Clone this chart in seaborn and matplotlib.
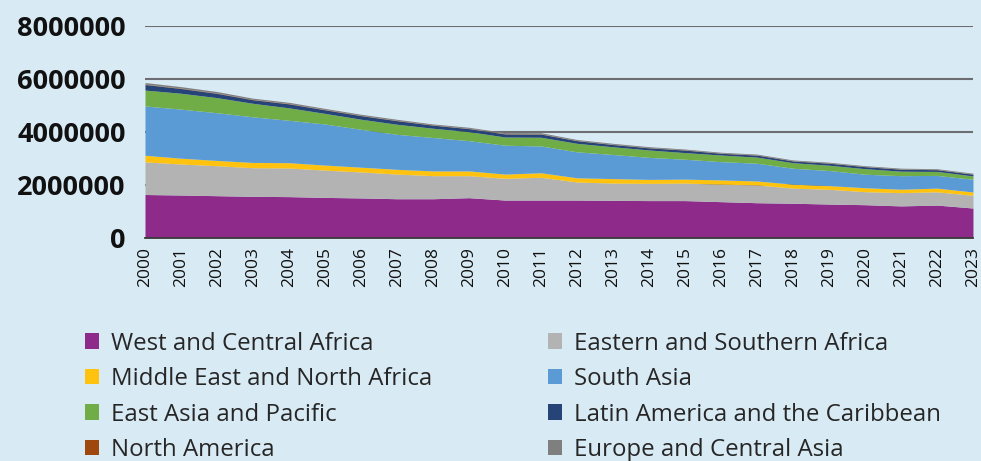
import numpy as np
import pandas as pd
import matplotlib
matplotlib.use("Agg")
import matplotlib.pyplot as plt
from matplotlib.patches import Patch
import seaborn as sns

years = list(range(2000, 2024))

regions = [
    "West and Central Africa",
    "Eastern and Southern Africa",
    "Middle East and North Africa",
    "South Asia",
    "East Asia and Pacific",
    "Latin America and the Caribbean",
    "North America",
    "Europe and Central Asia",
]

wca = [1630000, 1610000, 1585000, 1560000, 1550000, 1520000, 1500000, 1470000,
       1470000, 1510000, 1420000, 1420000, 1420000, 1410000, 1400000, 1400000,
       1360000, 1320000, 1300000, 1270000, 1245000, 1200000, 1230000, 1120000]
esa = [1230000, 1170000, 1130000, 1080000, 1080000, 1030000, 980000, 930000,
       870000, 830000, 820000, 860000, 680000, 650000, 650000, 660000,
       660000, 670000, 570000, 555000, 490000, 500000, 500000, 480000]
mena = [250000, 220000, 200000, 200000, 200000, 190000, 180000, 180000,
        180000, 180000, 160000, 170000, 160000, 170000, 150000, 150000,
        160000, 150000, 150000, 140000, 150000, 130000, 140000, 125000]
sa = [1860000, 1850000, 1800000, 1720000, 1600000, 1550000, 1430000, 1320000,
      1260000, 1140000, 1090000, 1010000, 980000, 910000, 830000, 750000,
      690000, 670000, 600000, 570000, 510000, 510000, 480000, 480000]
eap = [600000, 600000, 570000, 510000, 470000, 400000, 380000, 380000,
       350000, 340000, 310000, 330000, 320000, 290000, 280000, 250000,
       250000, 230000, 210000, 200000, 210000, 170000, 150000, 125000]
lac = [210000, 180000, 160000, 135000, 150000, 135000, 135000, 135000,
       115000, 115000, 115000, 120000, 100000, 85000, 80000, 95000,
       65000, 75000, 65000, 75000, 75000, 75000, 65000, 65000]
na = [15000, 15000, 14000, 14000, 13000, 13000, 12000, 12000,
      12000, 11000, 11000, 11000, 10000, 10000, 10000, 10000,
      9000, 9000, 9000, 9000, 8000, 8000, 8000, 8000]
eca = [60000, 55000, 55000, 45000, 45000, 40000, 40000, 40000,
       35000, 40000, 40000, 40000, 35000, 35000, 35000, 30000,
       30000, 30000, 30000, 30000, 30000, 30000, 30000, 30000]

y_ticks = [0, 2000000, 4000000, 6000000, 8000000]
y_labels = ["0", "2000000", "4000000", "6000000", "8000000"]

colors = ["#8e2a8a", "#b3b3b3", "#ffc20e", "#5b9bd5",
          "#70ad47", "#264478", "#9e480e", "#7f7f7f"]

df = pd.DataFrame({
    regions[0]: wca, regions[1]: esa, regions[2]: mena, regions[3]: sa,
    regions[4]: eap, regions[5]: lac, regions[6]: na, regions[7]: eca,
}, index=years)

sns.set_style("white")
plt.rcParams["font.family"] = ["Open Sans", "DejaVu Sans"]

bg = "#d8eaf4"
palette = sns.color_palette(colors)

fig, ax = plt.subplots(figsize=(9.81, 4.61), dpi=100)
fig.patch.set_facecolor(bg)
ax.set_facecolor(bg)
fig.subplots_adjust(left=0.1478, right=0.9918, top=0.9443, bottom=0.4844)

ax.stackplot(df.index, [df[r] for r in regions], colors=palette, linewidth=0)

ax.set_xlim(2000, 2023)
ax.set_ylim(0, 8000000)
ax.set_yticks(y_ticks)
ax.set_yticklabels(y_labels, fontsize=19.5, fontweight="bold", color="#111111")
ax.set_xticks(years)
ax.set_xticklabels([str(y) for y in years], rotation=90, fontsize=12.5, color="#111111")

ax.yaxis.grid(True, color="#6d6e71", linewidth=1.5)
ax.xaxis.grid(False)
ax.set_axisbelow(True)

for s in ["top", "right", "left"]:
    ax.spines[s].set_visible(False)
ax.spines["bottom"].set_color("#3a3a3a")
ax.spines["bottom"].set_linewidth(1.3)

ax.tick_params(axis="y", length=0, pad=14)
ax.tick_params(axis="x", direction="out", length=6.5, width=1.5, color="#555555", pad=0.5)

handles = [Patch(facecolor=c, edgecolor="none") for c in colors]
leg_kw = dict(loc="upper left", frameon=False, fontsize=17.3, handlelength=0.6,
              handleheight=0.6, handletextpad=0.5, labelspacing=0.48,
              borderpad=0, borderaxespad=0)
fig.legend([handles[i] for i in (0, 2, 4, 6)], [regions[i] for i in (0, 2, 4, 6)],
           bbox_to_anchor=(85 / 981, 1 - 331.5 / 461), **leg_kw)
fig.legend([handles[i] for i in (1, 3, 5, 7)], [regions[i] for i in (1, 3, 5, 7)],
           bbox_to_anchor=(548 / 981, 1 - 331.5 / 461), **leg_kw)

plt.savefig("out.png", dpi=100, facecolor=bg)
